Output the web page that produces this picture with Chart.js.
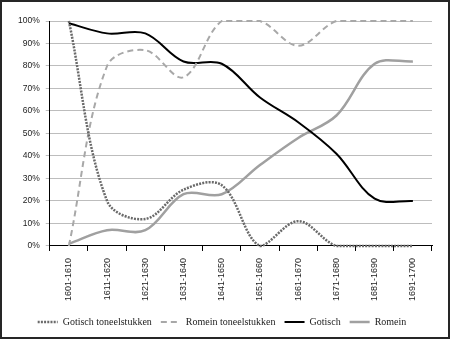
<!DOCTYPE html>
<html>
<head>
<meta charset="utf-8">
<script src="https://cdn.jsdelivr.net/npm/chart.js@4.4.0/dist/chart.umd.min.js"></script>
<style>
html,body{margin:0;padding:0;background:#fff;}
#wrap{width:450px;height:339px;box-sizing:border-box;border:2px solid #262626;background:#fff;}
canvas{display:block;}
</style>
</head>
<body>
<div id="wrap"><canvas id="c" width="446" height="335"></canvas></div>
<script>
const categories = ["1601-1610","1611-1620","1621-1630","1631-1640","1641-1650","1651-1660","1661-1670","1671-1680","1681-1690","1691-1700"];
const gotischToneelstukken = [100, 20, 12, 25, 27, 0, 11, 0, 0, 0];
const romeinToneelstukken = [0, 80, 87, 75, 100, 100, 89, 100, 100, 100];
const gotisch = [99, 94.5, 94.5, 82, 81, 66, 55, 41, 21, 20];
const romein = [1, 7, 7, 23, 23, 36, 48, 58, 81, 82];
const yTicks = [0,10,20,30,40,50,60,70,80,90,100];

function ds(label, data, color, width, dash) {
  return {label, data, borderColor: color, backgroundColor: color, borderWidth: width,
    borderDash: dash, pointRadius: 0, pointHoverRadius: 0, pointStyle: 'line',
    pointBorderWidth: width, tension: 0.35, fill: false, clip: 3};
}

new Chart(document.getElementById('c'), {
  type: 'line',
  data: {
    labels: categories,
    datasets: [
      ds('Gotisch toneelstukken', gotischToneelstukken, '#6a6a6a', 2.5, [2, 1.2]),
      ds('Romein toneelstukken', romeinToneelstukken, '#a8a8a8', 2, [6, 4]),
      ds('Gotisch', gotisch, '#000000', 2, []),
      ds('Romein', romein, '#a0a0a0', 2.5, [])
    ]
  },
  options: {
    responsive: false,
    animation: false,
    events: [],
    layout: {padding: {top: 19, right: 16, left: 10, bottom: 0}},
    plugins: {
      tooltip: {enabled: false},
      legend: {
        position: 'bottom',
        labels: {
          usePointStyle: true,
          pointStyleWidth: 20,
          boxWidth: 20,
          boxHeight: 6,
          padding: 9,
          color: '#222',
          font: {family: 'Liberation Serif', size: 10},
          generateLabels: (chart) => {
            const items = Chart.defaults.plugins.legend.labels.generateLabels(chart);
            items.forEach(it => {
              const d = chart.data.datasets[it.datasetIndex];
              it.lineDash = d.borderDash;
              it.lineWidth = d.borderWidth;
              it.strokeStyle = d.borderColor;
              it.pointStyle = 'line';
            });
            return items;
          }
        }
      }
    },
    scales: {
      x: {
        offset: true,
        grid: {display: true, drawOnChartArea: false, drawTicks: true, tickLength: 5, offset: true, color: '#000'},
        border: {display: true, color: '#000', width: 1},
        ticks: {maxRotation: 90, minRotation: 90, padding: 7, color: '#222',
          font: {family: 'Liberation Sans', size: 9}}
      },
      y: {
        min: 0, max: 100,
        afterBuildTicks: (s) => { s.ticks = yTicks.map(v => ({value: v})); },
        grid: {color: '#bdbdbd', lineWidth: 1, drawTicks: true, tickLength: 4},
        border: {display: true, color: '#000', width: 1},
        ticks: {padding: 6, color: '#222', callback: v => v + '%',
          font: {family: 'Liberation Sans', size: 8.5}}
      }
    }
  }
});
</script>
</body>
</html>
